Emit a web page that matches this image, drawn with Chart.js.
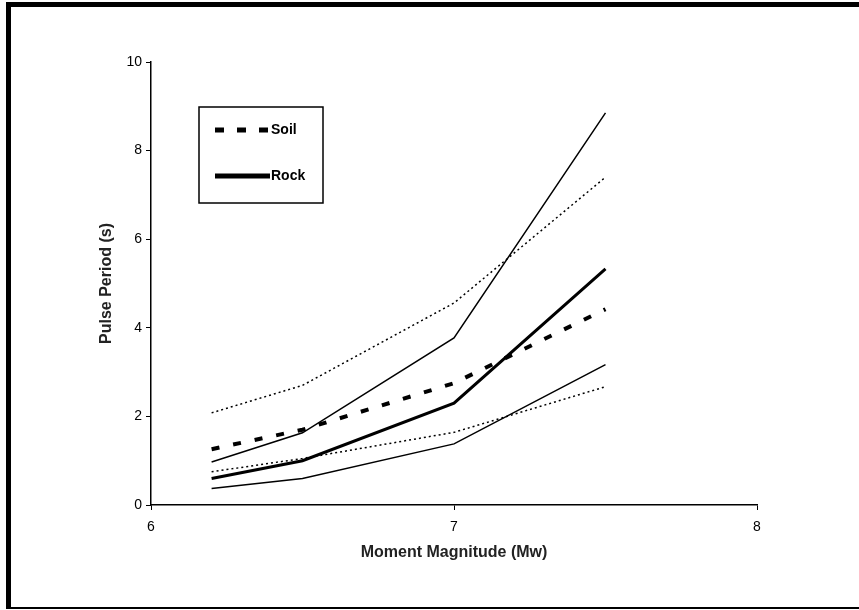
<!DOCTYPE html>
<html lang="en">
<head>
    <meta charset="UTF-8">
    <title>Pulse Period vs Moment Magnitude</title>
    <style>
        body { margin: 0; background: #fff; }
        #wrap { position: relative; width: 859px; height: 610px; }
        #frame {
            position: absolute; left: 6px; top: 2px; width: 853px; height: 600px;
            border-top: 5px solid #000; border-left: 5px solid #000; border-bottom: 2px solid #000;
            pointer-events: none;
        }
    </style>
</head>
<body>

<div id="wrap">
    <canvas id="chart" width="859" height="610"></canvas>
    <div id="frame"></div>
</div>

<script src="https://cdn.jsdelivr.net/npm/chart.js@4.4.0/dist/chart.umd.min.js"></script>

<script>
    const magnitudes = [6.2, 6.5, 7.0, 7.5];
    const soilUpper = [2.08, 2.7, 4.56, 7.4];
    const soilMean = [1.26, 1.7, 2.75, 4.42];
    const soilLower = [0.75, 1.05, 1.64, 2.67];
    const rockUpper = [0.97, 1.63, 3.77, 8.85];
    const rockMean = [0.6, 1.0, 2.3, 5.33];
    const rockLower = [0.37, 0.6, 1.38, 3.17];
    const xTicks = [6, 7, 8];
    const yTicks = [0, 2, 4, 6, 8, 10];

    const FONT = "'Liberation Sans', Arial, sans-serif";

    function pts(values) {
        return values.map((v, i) => ({ x: magnitudes[i], y: v }));
    }

    function line(label, values, width, dash) {
        return {
            label: label,
            data: pts(values),
            borderColor: '#000',
            borderWidth: width,
            borderDash: dash,
            pointRadius: 0,
            tension: 0,
            fill: false
        };
    }

    // legend box drawn inside the plot area, top left
    const boxLegend = {
        id: 'boxLegend',
        afterDraw(chart) {
            const ctx = chart.ctx;
            const area = chart.chartArea;
            const bx = area.left + 48, by = area.top + 45, bw = 124, bh = 96;
            ctx.save();
            ctx.strokeStyle = '#000';
            ctx.lineWidth = 1.5;
            ctx.strokeRect(bx, by, bw, bh);
            const entries = [
                { text: 'Soil', dash: [9, 13], y: by + 23 },
                { text: 'Rock', dash: [], y: by + 69 }
            ];
            ctx.font = 'bold 14px ' + FONT;
            ctx.textBaseline = 'middle';
            ctx.fillStyle = '#000';
            entries.forEach(e => {
                ctx.beginPath();
                ctx.setLineDash(e.dash);
                ctx.lineWidth = 5;
                ctx.moveTo(bx + 16, e.y);
                ctx.lineTo(bx + 71, e.y);
                ctx.stroke();
                ctx.setLineDash([]);
                ctx.fillText(e.text, bx + 72, e.y);
            });
            ctx.restore();
        }
    };

    const ctx = document.getElementById('chart').getContext('2d');
    new Chart(ctx, {
        type: 'line',
        data: {
            datasets: [
                line('Soil upper', soilUpper, 1.5, [2, 3]),
                line('Soil', soilMean, 4, [8, 14]),
                line('Soil lower', soilLower, 1.5, [2, 3]),
                line('Rock upper', rockUpper, 1.5, []),
                line('Rock', rockMean, 3, []),
                line('Rock lower', rockLower, 1.5, [])
            ]
        },
        plugins: [boxLegend],
        options: {
            responsive: false,
            animation: false,
            layout: { padding: { top: 62, right: 102, left: 0, bottom: 0 } },
            plugins: {
                legend: { display: false },
                tooltip: { enabled: false }
            },
            scales: {
                x: {
                    type: 'linear',
                    min: 6,
                    max: 8,
                    afterFit(scale) { scale.height = 105; },
                    afterBuildTicks(scale) { scale.ticks = xTicks.map(v => ({ value: v })); },
                    border: { color: '#000', width: 1.5 },
                    grid: { drawOnChartArea: false, color: '#000', tickLength: 5 },
                    ticks: { color: '#000', padding: 9, font: { family: FONT, size: 14 } },
                    title: {
                        display: true,
                        text: 'Moment Magnitude (Mw)',
                        color: '#222',
                        padding: { top: 0, bottom: 48 },
                        font: { family: FONT, size: 16, weight: 'bold' }
                    }
                },
                y: {
                    min: 0,
                    max: 10,
                    afterFit(scale) { scale.width = 151; },
                    afterBuildTicks(scale) { scale.ticks = yTicks.map(v => ({ value: v })); },
                    border: { color: '#000', width: 1.5 },
                    grid: { drawOnChartArea: false, color: '#000', tickLength: 5 },
                    ticks: { color: '#000', padding: 4, font: { family: FONT, size: 14 } },
                    title: {
                        display: true,
                        text: 'Pulse Period (s)',
                        color: '#222',
                        padding: { top: 97, bottom: 0 },
                        font: { family: FONT, size: 16, weight: 'bold' }
                    }
                }
            }
        }
    });
</script>

</body>
</html>
